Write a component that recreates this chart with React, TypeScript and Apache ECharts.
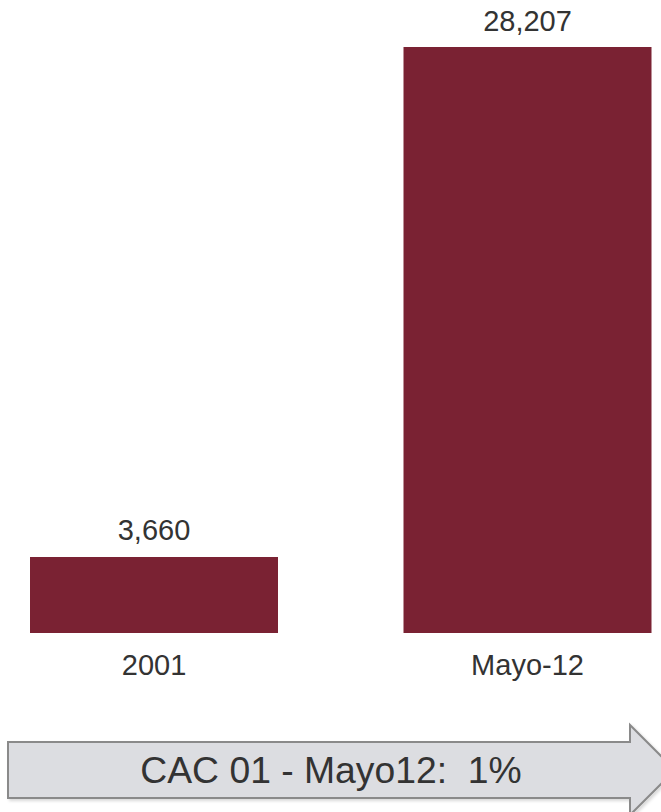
import React, { useEffect, useRef } from "react";
import * as echarts from "echarts";

const categories = ["2001", "Mayo-12"];
const values = [3660, 28207];
const arrowText = "CAC 01 - Mayo12:  1%";

export default function App() {
  const ref = useRef<HTMLDivElement>(null);
  useEffect(() => {
    if (!ref.current) return;
    const chart = echarts.init(ref.current, undefined, { renderer: "svg" });
    chart.setOption({
      animation: false,
      backgroundColor: "#ffffff",
      textStyle: { fontFamily: "Liberation Sans, Arial, sans-serif" },
      grid: { left: 154, right: 133.5, top: 47, bottom: 179, containLabel: false },
      xAxis: {
        type: "category",
        data: categories,
        boundaryGap: false,
        axisLine: { show: false },
        axisTick: { show: false },
        axisLabel: { color: "#333333", fontSize: 29, margin: 17, fontFamily: "Liberation Sans, Arial, sans-serif" },
        splitLine: { show: false },
      },
      yAxis: {
        type: "value",
        min: 0,
        max: 28207,
        show: false,
        splitLine: { show: false },
      },
      series: [
        {
          type: "bar",
          data: values,
          barWidth: 248,
          itemStyle: { color: "#7a2233" },
          label: {
            show: true,
            position: "top",
            distance: 12,
            color: "#333333",
            fontSize: 29,
            fontFamily: "Liberation Sans, Arial, sans-serif",
            formatter: (p: any) => Number(p.value).toLocaleString("en-US"),
          },
        },
      ],
      graphic: [
        {
          type: "polygon",
          z: 10,
          shape: {
            points: [
              [8, 742],
              [630, 742],
              [630, 725],
              [675, 770],
              [630, 815],
              [630, 798],
              [8, 798],
            ],
          },
          style: {
            fill: "#dcdde1",
            stroke: "#8a8a8a",
            lineWidth: 2,
            shadowColor: "rgba(0,0,0,0.15)",
            shadowBlur: 3,
            shadowOffsetX: 2,
            shadowOffsetY: 2,
          },
        },
        {
          type: "text",
          z: 11,
          x: 331,
          y: 770,
          style: {
            text: arrowText,
            fill: "#333333",
            fontSize: 37.3,
            fontFamily: "Liberation Sans, Arial, sans-serif",
            align: "center",
            verticalAlign: "middle",
          },
        },
      ],
    });
    return () => chart.dispose();
  }, []);
  return (
    <div
      ref={ref}
      style={{ position: "fixed", left: 0, top: 0, width: 661, height: 812 }}
    />
  );
}
